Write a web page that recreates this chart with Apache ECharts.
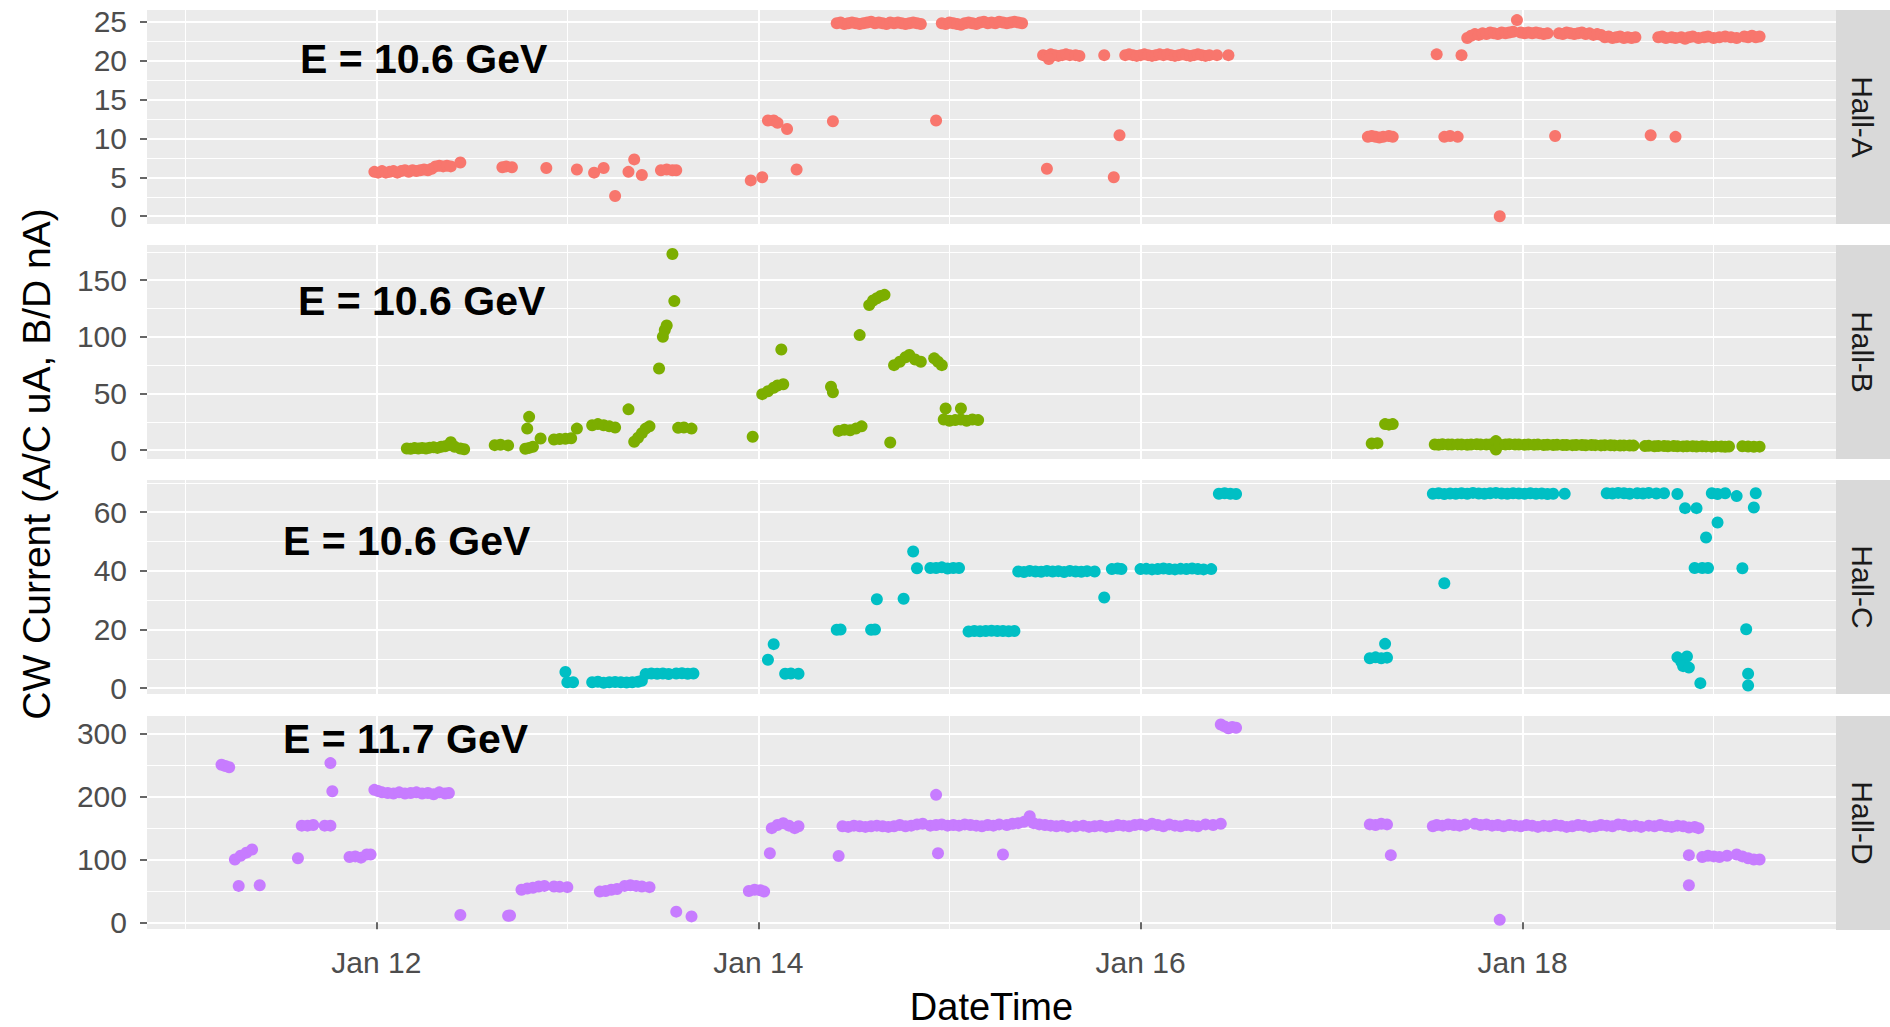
<!DOCTYPE html>
<html>
<head>
<meta charset="utf-8">
<script src="https://cdn.jsdelivr.net/npm/echarts@6/dist/echarts.min.js"></script>
<style>
html,body{margin:0;padding:0;background:#fff;}
#chart{width:1890px;height:1027px;}
</style>
</head>
<body>
<div id="chart"></div>
<script>
// ---- data: [day of January 2018 (fractional), current] ----
const hallA = [
[11.99,5.7],[12.01,5.6],[12.03,5.8],[12.05,5.6],[12.07,5.7],[12.09,5.8],[12.11,5.6],[12.13,5.8],[12.15,5.9],[12.17,5.7],[12.19,5.9],[12.21,5.8],[12.23,5.9],[12.25,6.0],[12.27,5.9],[12.29,6.1],[12.31,6.4],[12.33,6.5],[12.35,6.4],[12.37,6.5],[12.39,6.4],[12.44,6.9],
[12.66,6.3],[12.68,6.4],[12.71,6.3],[12.89,6.2],[13.05,6.0],[13.14,5.6],[13.19,6.2],[13.25,2.6],[13.32,5.7],[13.35,7.3],[13.39,5.3],[13.49,5.9],[13.52,6.0],[13.55,5.9],[13.57,5.9],
[13.96,4.6],[14.02,5.0],[14.05,12.3],[14.08,12.3],[14.10,12.0],[14.15,11.2],[14.20,6.0],[14.39,12.2],
[14.41,24.8],[14.43,24.9],[14.45,24.7],[14.47,24.8],[14.49,24.9],[14.51,24.8],[14.53,24.7],[14.55,24.8],[14.57,24.9],[14.59,25.0],[14.61,24.8],[14.63,24.9],[14.65,24.8],[14.67,24.7],[14.69,24.9],[14.71,24.8],[14.73,24.9],[14.75,24.8],[14.77,24.7],[14.79,24.8],[14.81,24.9],[14.83,24.8],[14.85,24.7],
[14.93,12.3],
[14.96,24.8],[14.98,24.7],[15.00,24.9],[15.02,24.8],[15.04,24.7],[15.06,24.6],[15.08,24.8],[15.10,24.9],[15.12,24.8],[15.14,24.7],[15.16,24.9],[15.18,25.0],[15.20,24.8],[15.22,24.9],[15.24,24.8],[15.26,25.0],[15.28,24.9],[15.30,24.8],[15.32,24.9],[15.34,25.0],[15.36,24.9],[15.38,24.8],
[15.49,20.7],[15.51,20.6],[15.53,20.8],[15.55,20.7],[15.57,20.6],[15.59,20.7],[15.61,20.8],[15.63,20.7],[15.66,20.7],[15.68,20.6],[15.52,20.2],
[15.51,6.1],[15.81,20.7],[15.86,5.0],[15.89,10.4],
[15.92,20.7],[15.94,20.8],[15.96,20.7],[15.98,20.6],[16.00,20.7],[16.02,20.8],[16.04,20.7],[16.06,20.6],[16.08,20.7],[16.10,20.8],[16.12,20.7],[16.14,20.8],[16.16,20.7],[16.18,20.6],[16.20,20.7],[16.22,20.8],[16.24,20.7],[16.26,20.6],[16.28,20.7],[16.30,20.8],[16.32,20.7],[16.34,20.6],[16.36,20.7],[16.40,20.7],[16.46,20.7],
[17.19,10.2],[17.21,10.3],[17.23,10.2],[17.25,10.1],[17.27,10.2],[17.30,10.3],[17.32,10.2],
[17.55,20.8],[17.59,10.2],[17.62,10.3],[17.66,10.2],[17.68,20.7],
[17.71,22.9],[17.73,23.2],[17.75,23.4],[17.77,23.3],[17.79,23.5],[17.81,23.4],[17.83,23.6],[17.85,23.5],[17.87,23.4],[17.89,23.6],[17.91,23.5],[17.93,23.6],[17.95,23.7],[17.97,25.2],[17.99,23.6],[18.01,23.5],[18.03,23.6],[18.05,23.5],[18.07,23.6],[18.09,23.5],[18.11,23.4],[18.13,23.5],
[17.88,0.0],[18.17,10.3],
[18.19,23.5],[18.21,23.4],[18.23,23.6],[18.25,23.5],[18.27,23.4],[18.29,23.5],[18.31,23.6],[18.33,23.4],[18.35,23.5],[18.37,23.3],[18.39,23.4],[18.41,23.3],
[18.43,23.0],[18.45,23.1],[18.47,22.9],[18.49,23.0],[18.51,23.1],[18.53,22.9],[18.55,23.0],[18.57,22.9],[18.59,23.0],
[18.67,10.4],
[18.71,23.0],[18.73,23.1],[18.75,22.9],[18.78,23.0],[18.80,22.9],[18.83,23.0],[18.85,22.8],[18.87,23.0],[18.89,23.1],[18.92,22.9],[18.95,23.0],[18.97,23.1],[19.00,22.9],[19.03,23.0],[19.06,23.1],[19.09,23.0],[19.12,22.9],[19.16,23.1],[19.18,23.0],[19.20,23.2],[19.22,23.0],[19.24,23.1],
[18.80,10.2]
];

const hallB = [
[12.16,1.5],[12.18,1.2],[12.20,1.8],[12.22,1.5],[12.24,2.0],[12.26,1.5],[12.28,2.2],[12.30,2.5],[12.32,2.0],[12.34,3.0],[12.36,3.5],[12.38,4.5],[12.39,7.0],[12.41,3.0],[12.44,1.5],[12.46,0.8],
[12.62,4.4],[12.65,4.8],[12.69,4.2],
[12.78,1.2],[12.80,2.0],[12.82,3.0],[12.79,19],[12.80,29.4],[12.86,10.3],
[12.93,9.4],[12.96,9.8],[12.99,10.0],[13.02,10.5],[13.05,19],
[13.13,22],[13.16,23],[13.19,22],[13.22,21],[13.25,20],[13.32,36],
[13.35,7.4],[13.37,11],[13.39,15],[13.41,19],[13.43,21],
[13.48,72],[13.50,100],[13.51,106],[13.52,110],[13.55,173],[13.56,131.5],
[13.58,19.7],[13.61,20],[13.65,19],
[13.97,11.8],
[14.02,49.4],[14.05,52],[14.08,55],[14.10,57],[14.13,58.2],[14.12,88.8],
[14.38,56],[14.39,51],
[14.42,17],[14.45,18],[14.48,17.6],[14.51,19],[14.54,21],[14.53,101.5],
[14.58,128],[14.60,132],[14.62,134],[14.64,136],[14.66,137],
[14.69,6.8],
[14.71,75],[14.74,78],[14.77,82],[14.79,84],[14.82,80],[14.85,78],
[14.92,81],[14.94,78],[14.96,75],
[14.97,27],[15.00,26],[15.03,26.5],[15.06,27],[15.09,26],[15.12,27],[15.15,26.5],[14.98,36.8],[15.06,36.8],
[17.21,5.9],[17.24,6.2],[17.28,23],[17.30,22.5],[17.32,23],
[17.54,5.0],[17.56,4.8],[17.58,5.2],[17.61,5.0],[17.63,4.9],[17.66,5.1],[17.68,5.0],[17.71,4.8],[17.73,5.0],[17.76,5.2],[17.78,4.9],[17.81,5.0],[17.83,5.1],[17.86,8.0],[17.86,0.5],[17.88,4.8],[17.91,5.0],[17.93,5.2],[17.96,5.0],[17.98,4.9],
[18.01,4.8],[18.03,5.0],[18.06,4.7],[18.08,4.9],[18.11,4.6],[18.13,4.8],[18.16,4.5],[18.18,4.7],[18.21,4.5],[18.23,4.6],[18.26,4.4],[18.28,4.6],[18.31,4.5],[18.33,4.3],[18.36,4.5],[18.38,4.4],[18.41,4.2],[18.43,4.4],[18.46,4.3],[18.48,4.2],[18.51,4.0],[18.53,4.2],[18.56,4.1],[18.58,4.0],
[18.64,3.6],[18.66,3.8],[18.69,3.5],[18.71,3.7],[18.74,3.6],[18.76,3.4],[18.79,3.6],[18.81,3.5],[18.84,3.3],[18.86,3.5],[18.89,3.4],[18.91,3.2],[18.94,3.4],[18.96,3.3],[18.99,3.1],[19.01,3.3],[19.04,3.2],[19.06,3.0],[19.08,3.2],
[19.15,3.5],[19.18,3.2],[19.21,3.0],[19.24,3.1]
];

const hallC = [
[12.99,5.5],[13.00,2.0],[13.03,2.0],
[13.13,2.0],[13.16,2.2],[13.19,1.8],[13.22,2.0],[13.25,2.1],[13.28,2.0],[13.31,1.9],[13.34,2.0],[13.37,2.2],[13.39,2.5],
[13.41,4.8],[13.44,5.0],[13.47,4.9],[13.50,5.0],[13.53,4.8],[13.57,5.0],[13.60,5.1],[13.63,4.9],[13.66,5.0],
[14.05,9.7],[14.08,15.0],[14.14,4.9],[14.17,5.0],[14.21,4.9],
[14.41,19.9],[14.43,20.0],[14.59,19.9],[14.61,20.0],[14.62,30.3],[14.76,30.5],
[14.81,46.6],[14.83,40.9],
[14.90,41.0],[14.93,41.0],[14.96,41.2],[14.99,40.8],[15.02,41.0],[15.05,41.0],
[15.10,19.3],[15.13,19.5],[15.16,19.4],[15.19,19.5],[15.22,19.6],[15.25,19.5],[15.28,19.5],[15.31,19.4],[15.34,19.5],
[15.36,39.8],[15.39,39.6],[15.42,40.0],[15.45,39.8],[15.48,39.7],[15.51,40.0],[15.54,39.8],[15.57,39.9],[15.60,39.6],[15.63,40.0],[15.66,39.8],[15.69,39.7],[15.72,39.9],[15.76,39.8],
[15.81,30.9],
[15.85,40.6],[15.88,40.8],[15.90,40.6],
[16.00,40.6],[16.03,40.7],[16.06,40.5],[16.09,40.6],[16.12,40.8],[16.15,40.6],[16.18,40.5],[16.21,40.7],[16.24,40.6],[16.27,40.8],[16.30,40.6],[16.33,40.5],[16.37,40.6],
[16.41,66.3],[16.44,66.5],[16.47,66.3],[16.50,66.2],
[17.20,10.2],[17.23,10.5],[17.26,10.2],[17.29,10.4],[17.28,15.1],
[17.59,35.8],
[17.53,66.3],[17.56,66.5],[17.59,66.2],[17.62,66.4],[17.65,66.3],[17.68,66.5],[17.71,66.3],[17.74,66.6],[17.77,66.4],[17.80,66.3],[17.83,66.5],[17.86,66.6],[17.89,66.4],[17.92,66.3],[17.95,66.5],[17.98,66.4],[18.01,66.3],[18.04,66.5],[18.07,66.3],[18.10,66.4],[18.13,66.2],[18.16,66.3],[18.22,66.3],
[18.44,66.5],[18.47,66.4],[18.50,66.6],[18.53,66.5],[18.56,66.3],[18.60,66.5],[18.63,66.4],[18.66,66.6],[18.70,66.4],[18.74,66.5],[18.81,66.2],
[18.85,61.4],[18.91,61.4],
[18.96,51.4],[19.02,56.5],
[18.90,41.0],[18.94,41.0],[18.97,41.0],
[19.15,40.9],
[18.81,10.5],[18.83,9.0],[18.84,7.5],[18.86,10.8],[18.87,7.0],
[18.93,1.7],
[18.99,66.5],[19.02,66.2],[19.06,66.5],[19.12,65.5],[19.22,66.5],
[19.21,61.6],
[19.17,20.1],[19.18,4.9],[19.18,0.9]
];

const hallD = [
[11.19,251],[11.21,249],[11.23,247],
[11.26,100],[11.29,106],[11.32,111],[11.35,116],
[11.28,58],[11.39,59],
[11.59,102],[11.61,154],[11.64,154],[11.67,155],
[11.73,154],[11.76,154],
[11.76,253.6],[11.77,208.7],
[11.86,104],[11.89,105],[11.92,103],[11.95,108],[11.97,108],
[11.99,211],[12.01,209],[12.03,207],[12.06,206],[12.09,205],[12.12,207],[12.15,205],[12.18,206],[12.21,207],[12.24,205],[12.27,206],[12.30,204],[12.33,207],[12.36,205],[12.38,206],
[12.44,11.6],[12.69,10.6],[12.70,11],
[12.76,52],[12.79,54],[12.82,55],[12.85,57],[12.88,58],
[12.93,57],[12.96,56.5],[13.00,56],
[13.17,49],[13.20,50],[13.23,52],[13.26,53],
[13.30,58],[13.33,59],[13.36,58],[13.39,57],[13.43,56],
[13.57,17],[13.65,9.5],
[13.95,50],[13.98,52],[14.01,51],[14.03,49],
[14.06,110],
[14.07,150],[14.10,155],[14.13,158],[14.16,154],[14.19,150],[14.21,153],
[14.42,105.6],
[14.44,153],[14.47,152],[14.50,154],[14.53,153],[14.56,152],[14.59,153],[14.62,154],[14.65,153],[14.68,152],[14.71,153],[14.74,155],[14.77,153],[14.80,154],[14.83,156],[14.86,157],
[14.93,203],[14.94,110],
[14.90,154],[14.93,155],[14.96,156],[14.99,154],[15.02,155],[15.05,154],[15.08,156],[15.11,155],[15.14,154],[15.17,153],[15.20,155],[15.23,154],[15.26,156],[15.30,155],[15.33,157],[15.36,158],[15.39,160],[15.42,169],[15.44,158],[15.47,156],[15.50,155],[15.53,154],[15.56,153],[15.59,154],[15.62,152],[15.66,153],[15.70,154],[15.73,152],[15.76,153],[15.79,154],[15.82,152],[15.85,153],[15.88,155],[15.91,154],[15.94,153],[15.97,155],[16.00,156],[16.03,154],[16.06,157],[16.09,155],[16.12,153],[16.15,156],[16.18,154],[16.21,153],[16.24,155],[16.27,154],[16.30,153],[16.34,156],[16.38,155],[16.42,157],
[15.28,108],
[16.42,315],[16.44,312],[16.46,309],[16.48,311],[16.50,310],
[17.20,156],[17.23,155],[17.26,157],[17.29,156],[17.31,107],
[17.53,153],[17.55,155],[17.58,154],[17.61,156],[17.64,155],[17.67,154],[17.70,156],
[17.75,157],[17.78,155],[17.81,156],[17.84,154],[17.87,155],[17.90,153],[17.93,155],[17.96,154],[17.99,153],[18.02,155],[18.05,154],[18.08,152],[18.11,154],[18.14,153],[18.17,155],[18.20,154],[18.23,152],[18.26,153],[18.29,155],[18.32,154],[18.35,152],[18.38,153],[18.41,155],[18.44,154],[18.47,153],[18.50,156],[18.53,155],[18.56,153],[18.59,154],[18.62,152],[18.66,154],[18.69,153],[18.72,155],[18.75,153],[18.78,152],[18.81,154],[18.84,153],[18.87,151],[18.90,152],[18.92,150],
[17.88,4],
[18.87,107],[18.87,59],
[18.94,104],[18.97,106],[19.00,105],[19.03,104],[19.07,106],
[19.12,108],[19.15,105],[19.18,102],[19.21,100],[19.24,100]
];

const panelNames = ['Hall-A','Hall-B','Hall-C','Hall-D'];
const energyLabels = ['E = 10.6 GeV','E = 10.6 GeV','E = 10.6 GeV','E = 11.7 GeV'];
const colors = ['#F8766D','#7CAE00','#00BFC4','#C77CFF'];
const yMajor = [[0,5,10,15,20,25],[0,50,100,150],[0,20,40,60],[0,100,200,300]];
const yMinor = [[2.5,7.5,12.5,17.5,22.5],[25,75,125,175],[10,30,50,70],[50,150,250]];
const yRange = [[-1.0,26.5],[-7.8,181],[-2.0,71],[-10.6,328.6]];
const xMajor = [12,14,16,18];
const xMinor = [11,13,15,17,19];
const xRange = [10.8,19.64];
const xTitle = 'DateTime';
const yTitle = 'CW Current (A/C uA, B/D nA)';

// ---- layout ----
const PL = 147, PW = 1689, PH = 214;
const tops = [10,245,480,716];
const annoX = [300,298,283,283];
const annoY = [59,301,541,739];
const FONT = 'Liberation Sans';

const grid = [], xAxis = [], yAxis = [], series = [], graphic = [];
const datasets = [hallA,hallB,hallC,hallD];

for (let i = 0; i < 4; i++) {
  grid.push({left:PL, top:tops[i], width:PW, height:PH, show:true, backgroundColor:'#EBEBEB', borderWidth:0});
  const last = i === 3;
  xAxis.push({
    type:'value', gridIndex:i, min:xRange[0], max:xRange[1], position:'bottom',
    axisLine:{show:false},
    axisTick:{show:last, customValues:xMajor, length:7, lineStyle:{color:'#333333', width:1.5}},
    axisLabel:{show:last, customValues:xMajor, margin:18, color:'#4D4D4D', fontSize:30, fontFamily:FONT,
      formatter: v => 'Jan ' + v},
    splitLine:{show:true, lineStyle:{color:'#FFFFFF', width:2}},
    name: last ? xTitle : '', nameLocation:'middle', nameGap:59,
    nameTextStyle:{fontSize:38, color:'#000', fontFamily:FONT}
  });
  xAxis.push({
    type:'value', gridIndex:i, min:xRange[0], max:xRange[1], position:'top',
    axisLine:{show:false}, axisLabel:{show:false},
    axisTick:{show:false, customValues:xMinor},
    splitLine:{show:true, lineStyle:{color:'#FFFFFF', width:1}}
  });
  yAxis.push({
    type:'value', gridIndex:i, min:yRange[i][0], max:yRange[i][1], position:'left',
    axisLine:{show:false},
    axisTick:{show:true, customValues:yMajor[i], length:7, lineStyle:{color:'#333333', width:1.5}},
    axisLabel:{show:true, customValues:yMajor[i], margin:20, color:'#4D4D4D', fontSize:30, fontFamily:FONT},
    splitLine:{show:true, lineStyle:{color:'#FFFFFF', width:2}}
  });
  yAxis.push({
    type:'value', gridIndex:i, min:yRange[i][0], max:yRange[i][1], position:'right',
    axisLine:{show:false}, axisLabel:{show:false},
    axisTick:{show:false, customValues:yMinor[i]},
    splitLine:{show:true, lineStyle:{color:'#FFFFFF', width:1}}
  });
  series.push({
    type:'scatter', name:panelNames[i], xAxisIndex:2*i, yAxisIndex:2*i,
    data:datasets[i], symbol:'circle', symbolSize:12,
    itemStyle:{color:colors[i], opacity:1}, z:5
  });
  graphic.push({type:'rect', shape:{x:1836, y:tops[i], width:54, height:PH}, style:{fill:'#D9D9D9'}, z:1});
  graphic.push({type:'text', x:1862, y:tops[i]+PH/2, rotation:-Math.PI/2,
    style:{text:panelNames[i], fill:'#1A1A1A', fontSize:30, fontFamily:FONT,
      align:'center', verticalAlign:'middle', textAlign:'center', textVerticalAlign:'middle'}, z:2});
  graphic.push({type:'text', x:annoX[i], y:annoY[i],
    style:{text:energyLabels[i], fill:'#000000', fontSize:41, fontWeight:'bold', fontFamily:FONT,
      align:'left', verticalAlign:'middle', textAlign:'left', textVerticalAlign:'middle'}, z:10});
}
graphic.push({type:'text', x:36, y:464, rotation:Math.PI/2,
  style:{text:yTitle, fill:'#000000', fontSize:39, fontFamily:FONT,
    align:'center', verticalAlign:'middle', textAlign:'center', textVerticalAlign:'middle'}, z:2});

const chart = echarts.init(document.getElementById('chart'), null, {renderer:'svg'});
chart.setOption({
  animation:false,
  backgroundColor:'#FFFFFF',
  grid, xAxis, yAxis, series, graphic
});
</script>
</body>
</html>
